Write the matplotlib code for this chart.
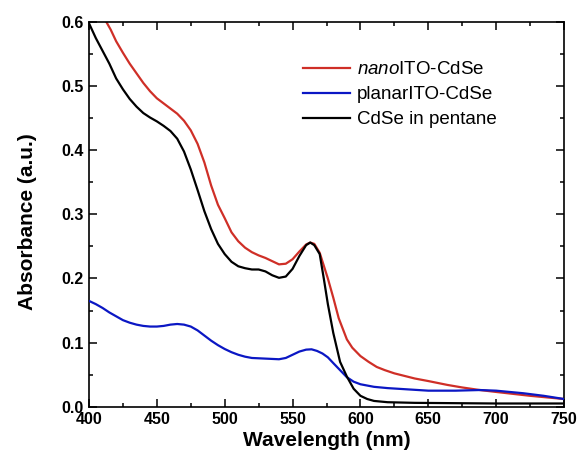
import matplotlib
matplotlib.use("Agg")
import matplotlib.pyplot as plt
from matplotlib.ticker import MultipleLocator, FormatStrFormatter

plt.rcParams['font.family'] = ['Liberation Sans', 'DejaVu Sans']
plt.rcParams['mathtext.fontset'] = 'custom'
plt.rcParams['mathtext.it'] = 'Liberation Sans:italic'
plt.rcParams['mathtext.rm'] = 'Liberation Sans'

# ---- data ----
wl_black = [400, 405, 410, 415, 420, 425, 430, 435, 440, 445, 450, 455, 460, 465, 470,
            475, 480, 485, 490, 495, 500, 505, 510, 515, 520, 525, 530, 535, 540, 545,
            550, 555, 560, 563, 566, 570, 573, 576, 580, 585, 590, 595, 600, 605, 610,
            620, 640, 700, 750]
ab_black = [0.598, 0.575, 0.555, 0.535, 0.512, 0.495, 0.480, 0.468, 0.458, 0.451, 0.445,
            0.438, 0.430, 0.418, 0.398, 0.370, 0.338, 0.305, 0.277, 0.254, 0.238, 0.226,
            0.219, 0.216, 0.214, 0.214, 0.211, 0.205, 0.201, 0.203, 0.215, 0.235, 0.252,
            0.256, 0.252, 0.238, 0.200, 0.160, 0.115, 0.070, 0.047, 0.028, 0.017, 0.012,
            0.009, 0.007, 0.006, 0.005, 0.005]

wl_red = [412, 416, 420, 425, 430, 435, 440, 445, 450, 455, 460, 465, 470, 475, 480, 485,
          490, 495, 500, 505, 510, 515, 520, 525, 530, 535, 540, 545, 550, 555, 560, 563,
          566, 570, 576, 580, 584, 590, 594, 600, 606, 612, 618, 625, 640, 650, 664, 675,
          688, 700, 725, 750]
ab_red = [0.603, 0.588, 0.570, 0.552, 0.535, 0.520, 0.505, 0.492, 0.481, 0.473, 0.465,
          0.457, 0.446, 0.431, 0.410, 0.381, 0.345, 0.315, 0.294, 0.272, 0.258, 0.248,
          0.241, 0.236, 0.232, 0.227, 0.222, 0.223, 0.230, 0.242, 0.253, 0.256, 0.254,
          0.240, 0.200, 0.170, 0.138, 0.105, 0.092, 0.079, 0.070, 0.062, 0.057, 0.052,
          0.044, 0.040, 0.034, 0.030, 0.026, 0.023, 0.017, 0.012]

wl_blue = [400, 405, 410, 415, 420, 425, 430, 435, 440, 445, 450, 455, 460, 465, 470, 475,
           480, 485, 490, 495, 500, 505, 510, 515, 520, 530, 540, 545, 550, 555, 560, 564,
           568, 572, 576, 580, 585, 590, 595, 600, 610, 620, 635, 650, 670, 688, 700, 720,
           735, 750]
ab_blue = [0.165, 0.160, 0.154, 0.147, 0.141, 0.135, 0.131, 0.128, 0.126, 0.125, 0.125,
           0.126, 0.128, 0.129, 0.128, 0.125, 0.119, 0.111, 0.103, 0.096, 0.090, 0.085,
           0.081, 0.078, 0.076, 0.075, 0.074, 0.076, 0.081, 0.086, 0.089, 0.0895, 0.087,
           0.083, 0.077, 0.068, 0.057, 0.046, 0.039, 0.035, 0.031, 0.029, 0.027, 0.025,
           0.025, 0.026, 0.025, 0.021, 0.017, 0.012]

labels = [r"$\it{nano}$ITO-CdSe", "planarITO-CdSe", "CdSe in pentane"]
colors = ['#cf2f27', '#0b17c4', '#000000']

# ---- figure ----
fig = plt.figure(figsize=(5.81, 4.65), dpi=100)
ax = fig.add_axes([89/581, 1 - 406.7/465, (564-89)/581, (406.7-22)/465])

ax.plot(wl_red, ab_red, color=colors[0], lw=1.6, label=labels[0], zorder=2)
ax.plot(wl_blue, ab_blue, color=colors[1], lw=1.6, label=labels[1], zorder=3)
ax.plot(wl_black, ab_black, color=colors[2], lw=1.6, label=labels[2], zorder=4)

ax.set_xlim(400, 750)
ax.set_ylim(0, 0.6)
ax.xaxis.set_major_locator(MultipleLocator(50))
ax.xaxis.set_minor_locator(MultipleLocator(25))
ax.yaxis.set_major_locator(MultipleLocator(0.1))
ax.yaxis.set_minor_locator(MultipleLocator(0.05))
ax.yaxis.set_major_formatter(FormatStrFormatter('%.1f'))

ax.tick_params(which='both', direction='in', top=True, right=True, width=1.1)
ax.tick_params(which='major', length=5.5)
ax.tick_params(which='minor', length=3)
ax.tick_params(axis='x', pad=4)
ax.tick_params(axis='y', pad=4)
for lab in ax.get_xticklabels() + ax.get_yticklabels():
    lab.set_fontweight('bold')
    lab.set_fontsize(11.5)
for s in ax.spines.values():
    s.set_linewidth(1.2)

ax.set_xlabel('Wavelength (nm)', fontsize=15, fontweight='bold', labelpad=3)
ax.set_ylabel('Absorbance (a.u.)', fontsize=15, fontweight='bold', labelpad=17)
ax.yaxis.label.set_y(0.5 - 7/384.7)

leg = ax.legend(loc='upper left', bbox_to_anchor=(303/581, 1 - 61/465),
                bbox_transform=fig.transFigure, frameon=False, fontsize=13.5,
                borderpad=0, borderaxespad=0, handlelength=2.5, handletextpad=0.37,
                labelspacing=0.42)

fig.savefig('out.png', dpi=100)
